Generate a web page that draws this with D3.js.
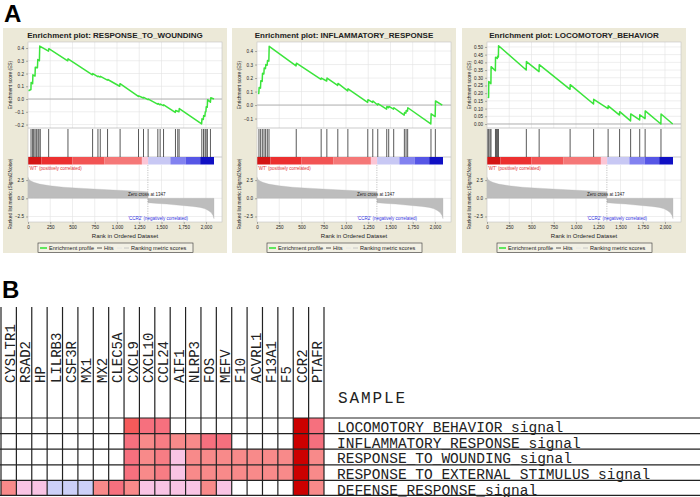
<!DOCTYPE html>
<html>
<head>
<meta charset="utf-8">
<script src="https://cdnjs.cloudflare.com/ajax/libs/d3/7.8.5/d3.min.js"></script>
<style>
body { margin: 0; background: #fff; }
svg { display: block; font-family: "Liberation Sans", Arial, sans-serif; }
</style>
</head>
<body>
<svg class="figure" width="700" height="497"></svg>
<script>
// ---- data ----
var rankSize = 2090;
var zeroCross = 1347;
var rankTicks = [0, 250, 500, 750, 1000, 1250, 1500, 1750, 2000];
var metricTicks = [-2.5, 0, 2.5];

var panelTitles = ['RESPONSE_TO_WOUNDING', 'INFLAMMATORY_RESPONSE', 'LOCOMOTORY_BEHAVIOR'];

var woundHits = [34, 52, 64, 79, 94, 112, 123, 138, 232, 449, 726, 786, 812, 894, 1035, 1242, 1298, 1350, 1459, 1485, 1523, 1657, 1683, 1698, 1953, 1972, 1990, 2001, 2016, 2050];
var woundEsRanks = [5, 33, 35, 52, 55, 79, 82, 106, 110, 128, 132, 230, 234, 446, 450, 724, 728, 784, 788, 810, 814, 892, 896, 1030, 1034, 1240, 1244, 1296, 1300, 1348, 1352, 1456, 1460, 1483, 1487, 1521, 1525, 1655, 1659, 1696, 1700, 1951, 1955, 1970, 1974, 1988, 1992, 1999, 2003, 2014, 2018, 2050, 2054, 2090];
var woundEsValues = [0.065, 0.075, 0.13, 0.12, 0.19, 0.18, 0.25, 0.245, 0.31, 0.30, 0.415, 0.375, 0.395, 0.30, 0.315, 0.19, 0.20, 0.175, 0.18, 0.172, 0.178, 0.148, 0.153, 0.10, 0.12, 0.02, 0.025, 0.008, 0.013, -0.005, 0.0, -0.04, -0.035, -0.045, -0.04, -0.052, -0.045, -0.105, -0.09, -0.10, -0.075, -0.195, -0.155, -0.16, -0.13, -0.135, -0.10, -0.10, -0.06, -0.065, -0.005, -0.025, 0.01, 0.0];
var woundEsTicks = [-0.2, -0.1, 0, 0.1, 0.2, 0.3, 0.4];

var inflamHits = [22, 41, 60, 79, 97, 116, 135, 441, 721, 785, 908, 1021, 1245, 1301, 1357, 1458, 1480, 1536, 1656, 1675, 1693, 1955, 2004];
var inflamEsRanks = [15, 20, 24, 39, 43, 58, 62, 77, 81, 95, 99, 114, 118, 133, 137, 439, 443, 719, 723, 783, 787, 906, 910, 1019, 1023, 1243, 1247, 1299, 1303, 1355, 1359, 1456, 1460, 1478, 1482, 1534, 1538, 1654, 1658, 1673, 1677, 1691, 1695, 1953, 1957, 2002, 2006, 2082];
var inflamEsValues = [0.09, 0.085, 0.13, 0.125, 0.18, 0.175, 0.235, 0.23, 0.275, 0.27, 0.30, 0.295, 0.33, 0.325, 0.435, 0.29, 0.31, 0.19, 0.20, 0.178, 0.20, 0.145, 0.16, 0.105, 0.12, 0.02, 0.04, 0.02, 0.03, 0.0, 0.01, -0.03, -0.01, -0.02, -0.01, -0.03, -0.02, -0.075, -0.055, -0.06, -0.04, -0.045, -0.02, -0.14, -0.065, -0.085, 0.03, 0.0];
var inflamEsTicks = [-0.1, 0, 0.1, 0.2, 0.3, 0.4];

var locoHits = [8, 19, 34, 45, 95, 106, 117, 129, 442, 586, 934, 1198, 1361, 1490, 1614, 1716, 1777, 1955];
var locoEsRanks = [8, 18, 20, 44, 46, 94, 96, 116, 118, 128, 130, 441, 443, 585, 587, 933, 935, 1197, 1199, 1360, 1362, 1489, 1491, 1613, 1615, 1715, 1717, 1776, 1778, 1954, 1956, 2087];
var locoEsValues = [0.177, 0.172, 0.275, 0.262, 0.372, 0.345, 0.433, 0.425, 0.44, 0.435, 0.508, 0.35, 0.405, 0.34, 0.385, 0.225, 0.255, 0.13, 0.16, 0.10, 0.118, 0.058, 0.08, 0.02, 0.065, 0.026, 0.06, 0.035, 0.085, 0.0, 0.065, 0.0];
var locoEsTicks = [0, 0.05, 0.1, 0.15, 0.2, 0.25, 0.3, 0.35, 0.4, 0.45, 0.5];

var metricRanks = [0, 10, 30, 64, 130, 250, 400, 625, 900, 1185, 1346, 1348, 1450, 1560, 1700, 1850, 1933, 1990, 2030, 2060, 2080, 2090];
var metricValues = [2.9, 2.6, 2.4, 2.2, 1.95, 1.72, 1.52, 1.36, 1.17, 1.0, 0.9, -0.6, -0.7, -0.8, -0.95, -1.12, -1.25, -1.45, -1.7, -2.0, -2.4, -2.8];

var barBreaks = [0, 150, 500, 860, 1280, 1350, 1600, 1770, 1935, 2090];
var barColors = ['#d41414', '#ec3030', '#f25454', '#f57878', '#fbc6d6', '#c8c8f4', '#8282f0', '#5656e6', '#1010c4'];

var genes = ['CYSLTR1', 'RSAD2', 'HP', 'LILRB3', 'CSF3R', 'MX1', 'MX2', 'CLEC5A', 'CXCL9', 'CXCL10', 'CCL24', 'AIF1', 'NLRP3', 'FOS', 'MEFV', 'F10', 'ACVRL1', 'F13A1', 'F5', 'CCR2', 'PTAFR'];
var geneSets = ['LOCOMOTORY_BEHAVIOR_signal', 'INFLAMMATORY_RESPONSE_signal', 'RESPONSE_TO_WOUNDING_signal', 'RESPONSE_TO_EXTERNAL_STIMULUS_signal', 'DEFENSE_RESPONSE_signal'];
var cellValues = [
    [0, 0, 0, 0, 0, 0, 0, 0, 0.8, 0.7, 0.7, 0, 0, 0, 0, 0, 0, 0, 0, 1, 0.7],
    [0, 0, 0, 0, 0, 0, 0, 0, 0.7, 0.6, 0.65, 0.6, 0.6, 0.7, 0.7, 0, 0, 0, 0, 1, 0.7],
    [0, 0, 0, 0, 0, 0, 0, 0, 0.7, 0.6, 0.65, 0.3, 0.6, 0.6, 0.6, 0.6, 0.6, 0.6, 0.6, 1, 0.6],
    [0, 0, 0, 0, 0, 0, 0, 0, 0.7, 0.6, 0.65, 0.3, 0.6, 0.6, 0.6, 0.6, 0.6, 0.6, 0.6, 1, 0.6],
    [0.6, 0.3, 0.3, -0.3, -0.3, -0.3, 0.6, 0.7, 0.6, 0.3, 0.3, 0.3, 0.3, 0.6, 0.3, 0, 0, 0, 0, 1, 0.6]
];

// ---- layout ----
var svg = d3.select('svg.figure');

var panelLefts = [3, 232, 462];
var panelW = 224, panelTop = 28, panelH = 225;
var plotLeft = 25, plotW = 194;
var esTop = 42, esBottom = 128, hitsBottom = 157, barBottom = 165, metricBottom = 222;
var rankDomain = [0, 2180];
var metricDomain = [-3.26, 4.58];
var bg = '#ece9d8';
var gridColor = '#e3e3e3';

var panels = [
    { title: panelTitles[0], hits: woundHits, ranks: woundEsRanks, values: woundEsValues, ticks: woundEsTicks, domain: [-0.227, 0.447], fmt: '.1f' },
    { title: panelTitles[1], hits: inflamHits, ranks: inflamEsRanks, values: inflamEsValues, ticks: inflamEsTicks, domain: [-0.170, 0.467], fmt: '.1f' },
    { title: panelTitles[2], hits: locoHits, ranks: locoEsRanks, values: locoEsValues, ticks: locoEsTicks, domain: [-0.026, 0.532], fmt: '.2f' }
];

function styleAxis(sel) {
    sel.select('.domain').remove();
    sel.selectAll('line').attr('stroke', '#666').attr('stroke-width', 0.5);
    sel.selectAll('text').attr('font-size', '4.6px').attr('fill', '#222')
        .attr('font-family', '"Liberation Sans", Arial, sans-serif');
}

function drawPanel(left, p) {
    var g = svg.append('g').attr('transform', 'translate(' + left + ',0)');
    var x = d3.scaleLinear().domain(rankDomain).range([plotLeft, plotLeft + plotW]);
    var yEs = d3.scaleLinear().domain(p.domain).range([esBottom, esTop]);
    var yM = d3.scaleLinear().domain(metricDomain).range([metricBottom, barBottom]);

    g.append('rect').attr('x', 0).attr('y', panelTop).attr('width', panelW).attr('height', panelH).attr('fill', bg);
    g.append('text').attr('x', panelW / 2).attr('y', 37.5).attr('text-anchor', 'middle')
        .attr('font-size', '8px').attr('font-weight', 'bold').attr('fill', '#222')
        .text('Enrichment plot: ' + p.title);

    g.append('rect').attr('x', plotLeft).attr('y', esTop).attr('width', plotW).attr('height', metricBottom - esTop)
        .attr('fill', '#fff');

    // grid
    var vGrid = rankTicks.slice(1);
    g.selectAll('.vgrid-es').data(vGrid).enter().append('line')
        .attr('x1', function(d) { return x(d); }).attr('x2', function(d) { return x(d); })
        .attr('y1', esTop).attr('y2', esBottom).attr('stroke', gridColor).attr('stroke-width', 0.6);
    g.selectAll('.vgrid-m').data(vGrid).enter().append('line')
        .attr('x1', function(d) { return x(d); }).attr('x2', function(d) { return x(d); })
        .attr('y1', barBottom).attr('y2', metricBottom).attr('stroke', gridColor).attr('stroke-width', 0.6);
    g.selectAll('.hgrid-es').data(p.ticks).enter().append('line')
        .attr('x1', plotLeft).attr('x2', plotLeft + plotW)
        .attr('y1', function(d) { return yEs(d); }).attr('y2', function(d) { return yEs(d); })
        .attr('stroke', gridColor).attr('stroke-width', 0.6);
    g.selectAll('.hgrid-m').data(metricTicks).enter().append('line')
        .attr('x1', plotLeft).attr('x2', plotLeft + plotW)
        .attr('y1', function(d) { return yM(d); }).attr('y2', function(d) { return yM(d); })
        .attr('stroke', gridColor).attr('stroke-width', 0.6);

    // zero line
    g.append('line').attr('x1', plotLeft).attr('x2', plotLeft + plotW)
        .attr('y1', yEs(0)).attr('y2', yEs(0)).attr('stroke', '#9a9a9a').attr('stroke-width', 0.7);

    // running enrichment score
    var line = d3.line().x(function(d) { return x(d[0]); }).y(function(d) { return yEs(d[1]); });
    g.append('path').datum(d3.zip(p.ranks, p.values)).attr('d', line)
        .attr('fill', 'none').attr('stroke', '#3be43b').attr('stroke-width', 1.5).attr('stroke-linejoin', 'round');

    // separators
    [esBottom, hitsBottom].forEach(function(yy) {
        g.append('line').attr('x1', plotLeft).attr('x2', plotLeft + plotW).attr('y1', yy).attr('y2', yy)
            .attr('stroke', '#aaa').attr('stroke-width', 0.6);
    });

    // hits
    g.selectAll('.hit').data(p.hits).enter().append('line')
        .attr('x1', function(d) { return x(d); }).attr('x2', function(d) { return x(d); })
        .attr('y1', esBottom + 1).attr('y2', hitsBottom).attr('stroke', '#222').attr('stroke-width', 0.75);

    // ranked list colour bar
    g.selectAll('.seg').data(barColors).enter().append('rect')
        .attr('x', function(d, i) { return x(barBreaks[i]); })
        .attr('width', function(d, i) { return x(barBreaks[i + 1]) - x(barBreaks[i]); })
        .attr('y', hitsBottom).attr('height', barBottom - hitsBottom - 0.5)
        .attr('fill', function(d) { return d; });

    // ranked list metric
    var area = d3.area().x(function(d) { return x(d[0]); })
        .y0(yM(0)).y1(function(d) { return yM(d[1]); });
    g.append('path').datum(d3.zip(metricRanks, metricValues)).attr('d', area)
        .attr('fill', '#bdbdbd').attr('stroke', '#b4b4b4').attr('stroke-width', 0.3);

    g.append('line').attr('x1', x(zeroCross)).attr('x2', x(zeroCross))
        .attr('y1', barBottom).attr('y2', metricBottom)
        .attr('stroke', '#888').attr('stroke-width', 0.5).attr('stroke-dasharray', '1.2,1.2');

    g.append('text').attr('x', plotLeft + 1).attr('y', 169.5).attr('font-size', '4.5px').attr('fill', '#e03030')
        .text("'WT' (positively correlated)");
    g.append('text').attr('x', x(zeroCross) - 1).attr('y', 195.5).attr('text-anchor', 'middle')
        .attr('font-size', '4.5px').attr('fill', '#222').text('Zero cross at ' + zeroCross);
    g.append('text').attr('x', plotLeft + 160).attr('y', 220).attr('text-anchor', 'end')
        .attr('font-size', '4.5px').attr('fill', '#3030e0').text("'CCR2' (negatively correlated)");

    g.append('rect').attr('x', plotLeft).attr('y', esTop).attr('width', plotW).attr('height', metricBottom - esTop)
        .attr('fill', 'none').attr('stroke', '#c4c4c4').attr('stroke-width', 0.6);

    // axes
    g.append('g').attr('transform', 'translate(' + plotLeft + ',0)')
        .call(d3.axisLeft(yEs).tickValues(p.ticks).tickFormat(d3.format(p.fmt)).tickSize(2).tickPadding(2))
        .call(styleAxis);
    g.append('g').attr('transform', 'translate(' + plotLeft + ',0)')
        .call(d3.axisLeft(yM).tickValues(metricTicks).tickFormat(d3.format('.1f')).tickSize(2).tickPadding(2))
        .call(styleAxis);
    g.append('g').attr('transform', 'translate(0,' + metricBottom + ')')
        .call(d3.axisBottom(x).tickValues(rankTicks).tickFormat(d3.format(',')).tickSize(2).tickPadding(1.5))
        .call(styleAxis);

    g.append('text').attr('x', plotLeft + plotW / 2).attr('y', 237.5).attr('text-anchor', 'middle')
        .attr('font-size', '6px').attr('fill', '#222').text('Rank in Ordered Dataset');
    g.append('text').attr('transform', 'translate(9,' + ((esTop + esBottom) / 2) + ') rotate(-90)')
        .attr('text-anchor', 'middle').attr('font-size', '4.8px').attr('fill', '#222').text('Enrichment score (ES)');
    g.append('text').attr('transform', 'translate(8.5,194) rotate(-90)')
        .attr('text-anchor', 'middle').attr('font-size', '4.8px').attr('fill', '#222').text('Ranked list metric (Signal2Noise)');

    // legend
    var lx = panelW / 2 - 77, ly = 243;
    var lg = g.append('g').attr('transform', 'translate(' + lx + ',' + ly + ')');
    lg.append('rect').attr('width', 155).attr('height', 9.5).attr('fill', '#f2f0e4')
        .attr('stroke', '#333').attr('stroke-width', 0.6);
    var items = [
        { x1: 2, x2: 9, color: '#3be43b', w: 1.6, label: 'Enrichment profile', tx: 11 },
        { x1: 59, x2: 64, color: '#333', w: 0.8, label: 'Hits', tx: 66 },
        { x1: 79, x2: 84, color: '#e2e2e2', w: 0.8, label: '', tx: 0 },
        { x1: 86, x2: 91, color: '#bcbcbc', w: 0.8, label: 'Ranking metric scores', tx: 93 }
    ];
    items.forEach(function(it) {
        lg.append('line').attr('x1', it.x1).attr('x2', it.x2).attr('y1', 5).attr('y2', 5)
            .attr('stroke', it.color).attr('stroke-width', it.w);
        if (it.label) {
            lg.append('text').attr('x', it.tx).attr('y', 7).attr('font-size', '5.6px').attr('fill', '#222').text(it.label);
        }
    });
}

panels.forEach(function(p, i) { drawPanel(panelLefts[i], p); });

svg.append('text').attr('x', 4).attr('y', 22).attr('font-size', '24px').attr('font-weight', 'bold').text('A');
svg.append('text').attr('x', 2).attr('y', 298).attr('font-size', '24px').attr('font-weight', 'bold').text('B');

// ---- heatmap (panel B) ----
var mono = '"Liberation Mono", "DejaVu Sans Mono", monospace';
var colX = d3.scaleBand().domain(genes).range([1, 324]);
var rowY = d3.scaleBand().domain(geneSets).range([418, 496]);
var cellColor = d3.scaleLinear()
    .domain([-0.3, 0, 0.3, 0.6, 0.7, 0.8, 1])
    .range(['#ccd0f8', '#ffffff', '#f9c4e4', '#f88a8a', '#f6707e', '#f55a5a', '#cc0000']);

var cells = [];
geneSets.forEach(function(s, r) {
    genes.forEach(function(gn, c) { cells.push({ set: s, gene: gn, v: cellValues[r][c] }); });
});
svg.selectAll('.cell').data(cells).enter().append('rect')
    .attr('x', function(d) { return colX(d.gene); })
    .attr('y', function(d) { return rowY(d.set); })
    .attr('width', colX.bandwidth()).attr('height', rowY.bandwidth())
    .attr('fill', function(d) { return cellColor(d.v); });

var colEdges = genes.map(function(gn) { return colX(gn); }).concat([colX.range()[1]]);
svg.selectAll('.vline').data(colEdges).enter().append('line')
    .attr('x1', function(d) { return d; }).attr('x2', function(d) { return d; })
    .attr('y1', 307).attr('y2', 496).attr('stroke', '#222').attr('stroke-width', 1.2);

var rowEdges = geneSets.map(function(s) { return rowY(s); }).concat([rowY.range()[1] - 0.6]);
svg.selectAll('.hline').data(rowEdges).enter().append('line')
    .attr('x1', 0).attr('x2', 700)
    .attr('y1', function(d) { return d; }).attr('y2', function(d) { return d; })
    .attr('stroke', '#222').attr('stroke-width', 1.2);

svg.selectAll('.gene').data(genes).enter().append('text')
    .attr('transform', function(d) { return 'translate(' + (colX(d) + 13.5) + ',383) rotate(-90)'; })
    .attr('font-family', mono).attr('font-size', '14px').attr('fill', '#222')
    .text(function(d) { return d; });

svg.append('text').attr('x', 338).attr('y', 403).attr('font-family', mono).attr('font-size', '16px')
    .attr('fill', '#222').attr('textLength', 67).text('SAMPLE');

svg.selectAll('.set').data(geneSets).enter().append('text')
    .attr('x', 337).attr('y', function(d) { return rowY(d) + rowY.bandwidth() - 1.5; })
    .attr('font-family', mono).attr('font-size', '14.5px').attr('fill', '#222')
    .text(function(d) { return d; });
</script>
</body>
</html>
